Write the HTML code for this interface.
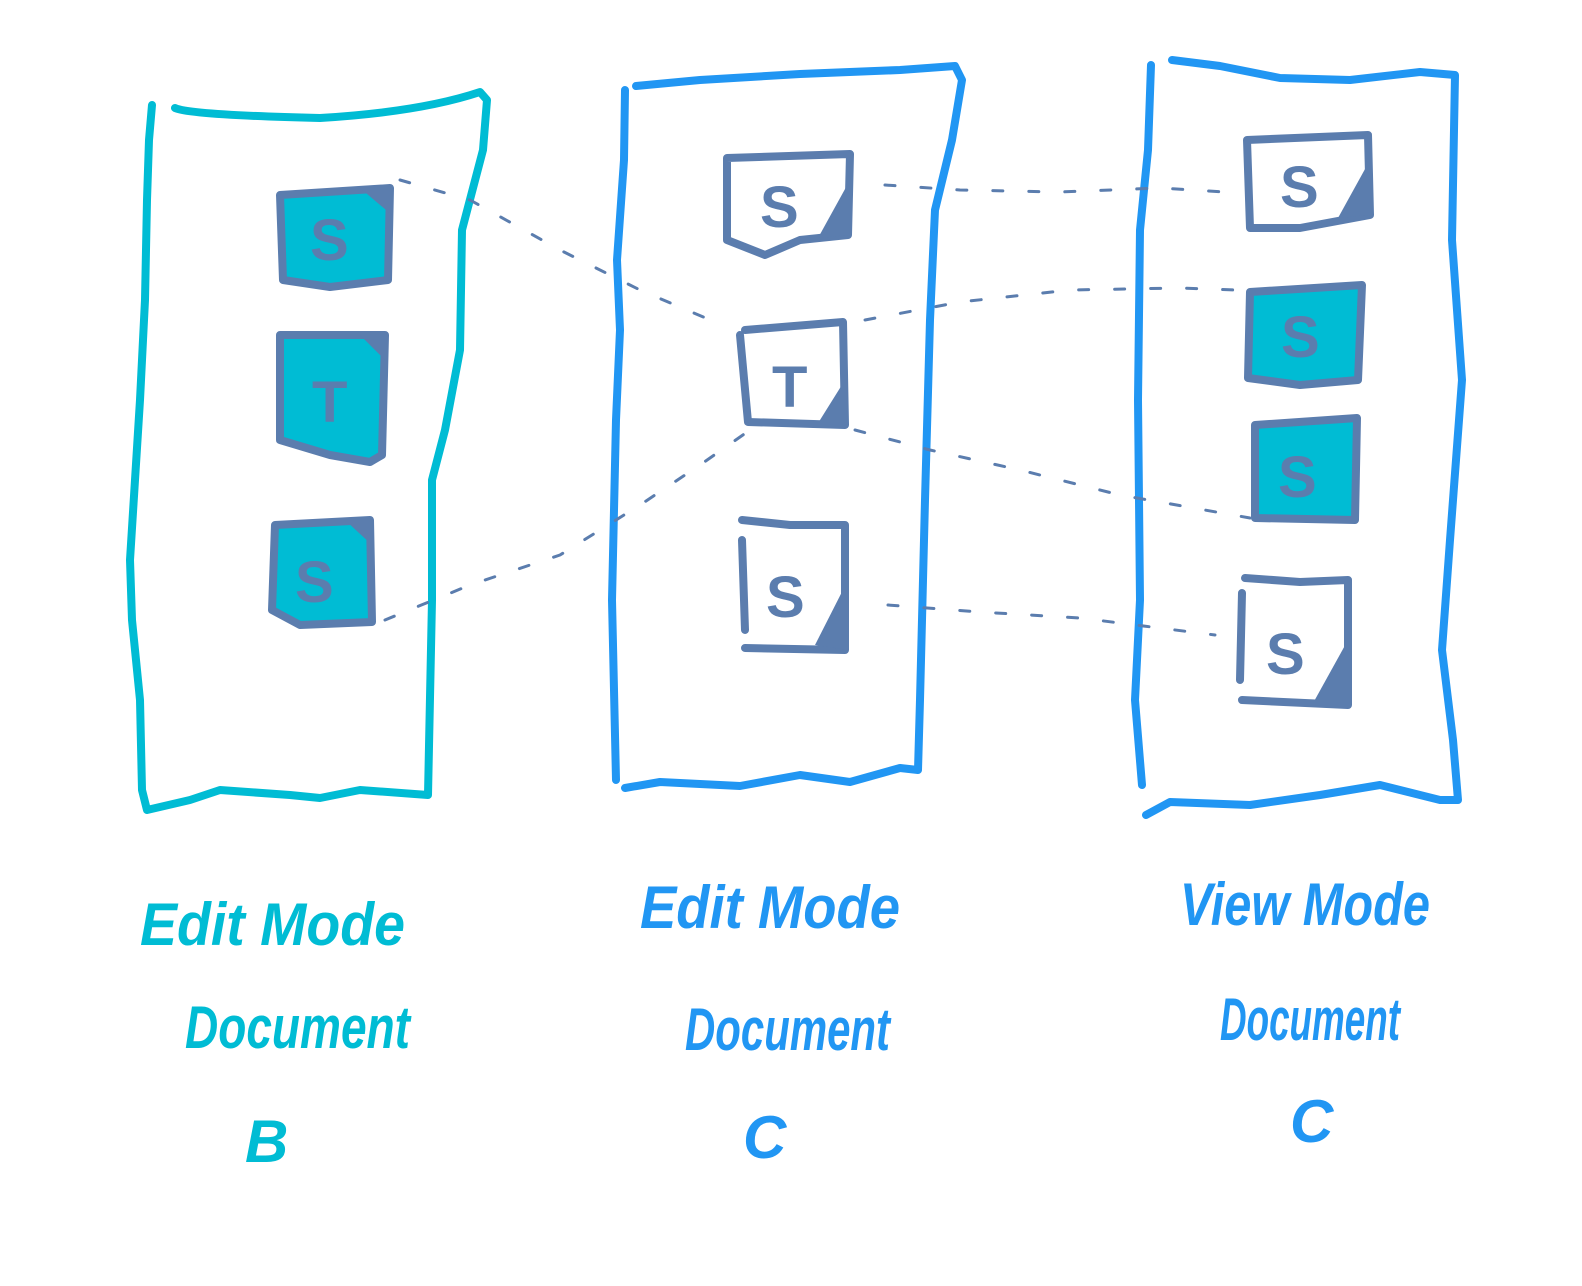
<!DOCTYPE html>
<html><head><meta charset="utf-8"><style>
html,body{margin:0;padding:0;background:#fff;}
svg{display:block}
text{font-family:"Liberation Sans",sans-serif;font-style:italic;}
</style></head><body>
<svg width="1582" height="1286" viewBox="0 0 1582 1286" xmlns="http://www.w3.org/2000/svg">
<g fill="none" stroke-linecap="round" stroke-linejoin="round">
<path d="M152,105 L149,140 147,200 145,300 140,400 135,480 130,560 132,620 140,700 142,790 147,810 M175,108 Q190,115 320,118 Q420,112 480,92 L487,100 483,150 462,230 460,350 445,430 432,480 432,600 428,795 M147,810 L190,800 L220,790 L290,795 L320,798 L360,790 L428,795" stroke="#00BCD4" stroke-width="8"/>
<path d="M625,90 L624,160 617,260 620,330 616,420 612,600 616,780 M636,86 L700,80 L800,74 L900,70 L955,66 L962,80 L952,140 L935,210 L930,320 L925,500 L920,700 L918,770 M625,788 L660,782 L740,786 L800,775 L850,782 L900,768 L918,770" stroke="#2196F3" stroke-width="8"/>
<path d="M1151,65 L1148,150 1140,230 1138,400 1140,600 1135,700 1142,785 M1172,60 L1220,66 L1280,78 L1350,80 L1420,72 L1455,75 L1452,240 1462,380 1450,540 1442,650 1453,740 1458,800 M1146,815 L1170,802 L1250,805 L1320,795 L1380,785 L1440,800 L1458,800" stroke="#2196F3" stroke-width="8"/>
<g stroke="#5B7DAE" stroke-width="3" stroke-dasharray="10 26">
<path d="M400,180 L470,200 L560,250 L640,290 L715,322"/>
<path d="M885,185 L960,190 L1060,192 L1160,188 L1225,192"/>
<path d="M865,320 L960,302 L1070,290 L1180,288 L1235,290"/>
<path d="M385,620 L470,585 L560,555 L640,505 L700,465 L750,430"/>
<path d="M855,430 L930,450 L1020,470 L1120,495 L1250,518"/>
<path d="M888,605 L980,612 L1080,618 L1215,635"/>
</g>
</g>
<g stroke="#5B7DAE" stroke-width="8" stroke-linejoin="round" stroke-linecap="round">
<path d="M280,195 L390,188 L388,280 L330,287 L283,280 Z" fill="#00BCD4"/>
<path d="M280,335 L385,335 L382,455 L370,462 L330,455 L280,440 Z" fill="#00BCD4"/>
<path d="M275,525 L370,520 L372,622 L300,625 L272,610 Z" fill="#00BCD4"/>
<path d="M727,158 L850,154 L848,235 L800,240 L765,255 L727,240 Z" fill="#fff"/>
<path d="M745,330 L843,322 L845,425 L748,422 L740,335" fill="#fff"/>
<path d="M742,540 L745,630 M742,520 L790,525 L845,525 L845,650 L745,648" fill="#fff"/>
<path d="M1247,140 L1368,135 L1370,215 L1300,228 L1250,228 Z" fill="#fff"/>
<path d="M1250,292 L1362,285 L1358,380 L1300,385 L1248,378 Z" fill="#00BCD4"/>
<path d="M1255,425 L1357,418 L1355,520 L1255,518 Z" fill="#00BCD4"/>
<path d="M1242,593 L1240,680 M1245,578 L1300,582 L1348,580 L1348,705 L1242,700" fill="#fff"/>
</g>
<g fill="#5B7DAE">
<path d="M392,188 L392,215 L360,188 Z"/>
<path d="M385,335 L385,360 L360,335 Z"/>
<path d="M372,520 L372,545 L345,520 Z"/>
<path d="M850,180 L850,235 L818,238 Z"/>
<path d="M845,380 L845,428 L815,428 Z"/>
<path d="M848,580 L848,650 L815,645 Z"/>
<path d="M1370,160 L1370,215 L1338,218 Z"/>
<path d="M1348,640 L1348,705 L1312,705 Z"/>
</g>
<g fill="#5B7DAE" font-size="58" font-weight="bold">
<text x="310" y="260" style="font-style:normal">S</text>
<text x="312" y="422" style="font-style:normal">T</text>
<text x="295" y="602" style="font-style:normal">S</text>
<text x="760" y="227" style="font-style:normal">S</text>
<text x="772" y="407" style="font-style:normal">T</text>
<text x="766" y="617" style="font-style:normal">S</text>
<text x="1280" y="207" style="font-style:normal">S</text>
<text x="1281" y="357" style="font-style:normal">S</text>
<text x="1278" y="497" style="font-style:normal">S</text>
<text x="1266" y="674" style="font-style:normal">S</text>
</g>
<g font-size="60" fill="#00BCD4" font-weight="bold">
<text x="140" y="945" textLength="265" lengthAdjust="spacingAndGlyphs">Edit Mode</text>
<text x="185" y="1048" textLength="225" lengthAdjust="spacingAndGlyphs">Document</text>
<text x="245" y="1162">B</text>
</g>
<g font-size="60" fill="#2196F3" font-weight="bold">
<text x="640" y="928" textLength="260" lengthAdjust="spacingAndGlyphs">Edit Mode</text>
<text x="685" y="1050" textLength="205" lengthAdjust="spacingAndGlyphs">Document</text>
<text x="743" y="1158">C</text>
<text x="1180" y="925" textLength="250" lengthAdjust="spacingAndGlyphs">View Mode</text>
<text x="1220" y="1040" textLength="180" lengthAdjust="spacingAndGlyphs">Document</text>
<text x="1290" y="1142">C</text>
</g>
</svg>
</body></html>
